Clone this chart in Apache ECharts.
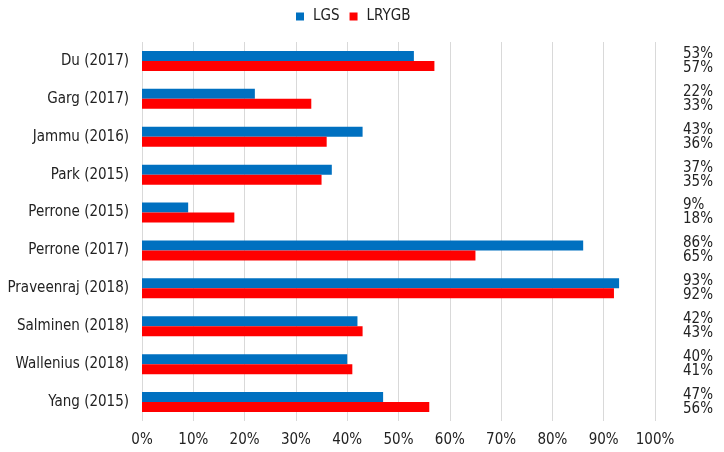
<!DOCTYPE html>
<html><head><meta charset="utf-8">
<script src="https://cdn.jsdelivr.net/npm/echarts@6/dist/echarts.min.js"></script>
<style>html,body{margin:0;padding:0;background:#fff}#c{width:724px;height:452px}</style>
</head><body><div id="c"></div>
<script>
var categories = ["Du (2017)","Garg (2017)","Jammu (2016)","Park (2015)","Perrone (2015)","Perrone (2017)","Praveenraj (2018)","Salminen (2018)","Wallenius (2018)","Yang (2015)"];
var lgs = [53,22,43,37,9,86,93,42,40,47];
var lrygb = [57,33,36,35,18,65,92,43,41,56];
var xTicks = [0,10,20,30,40,50,60,70,80,90,100];

var font = "'DejaVu Sans Condensed', 'DejaVu Sans', sans-serif";
var chart = echarts.init(document.getElementById('c'));
chart.setOption({
  animation:false,
  textStyle:{fontFamily:font},
  legend:{top:4,left:291,itemWidth:8,itemHeight:8,itemGap:10,icon:'rect',
    textStyle:{fontFamily:font,fontSize:15,color:'#222',padding:[0,0,0,4]},data:['LGS','LRYGB']},
  grid:{left:142,right:69,top:42,bottom:31},
  xAxis:{type:'value',min:0,max:100,interval:10,
    axisLine:{show:false},axisTick:{show:false},
    splitLine:{lineStyle:{color:'#d9d9d9'}},
    axisLabel:{fontFamily:font,fontSize:15,color:'#222',margin:12,formatter:function(v){return v+'%';}}},
  yAxis:[{type:'category',data:categories,inverse:true,
    axisLine:{show:false},axisTick:{show:false},
    axisLabel:{fontFamily:font,fontSize:15,color:'#222',margin:13}},
   {type:'category',data:categories,inverse:true,position:'right',
    axisLine:{show:false},axisTick:{show:false},
    axisLabel:{fontFamily:font,fontSize:15,color:'#222',margin:28,align:'left',lineHeight:14,
      formatter:function(v,i){return lgs[i]+'%\n'+lrygb[i]+'%';}}}],
  series:[
    {name:'LGS',type:'bar',data:lgs,barWidth:10,barGap:'0%',itemStyle:{color:'#0070C0'}},
    {name:'LRYGB',type:'bar',data:lrygb,barWidth:10,barGap:'0%',itemStyle:{color:'#FF0000'}}
  ]
});
</script></body></html>
